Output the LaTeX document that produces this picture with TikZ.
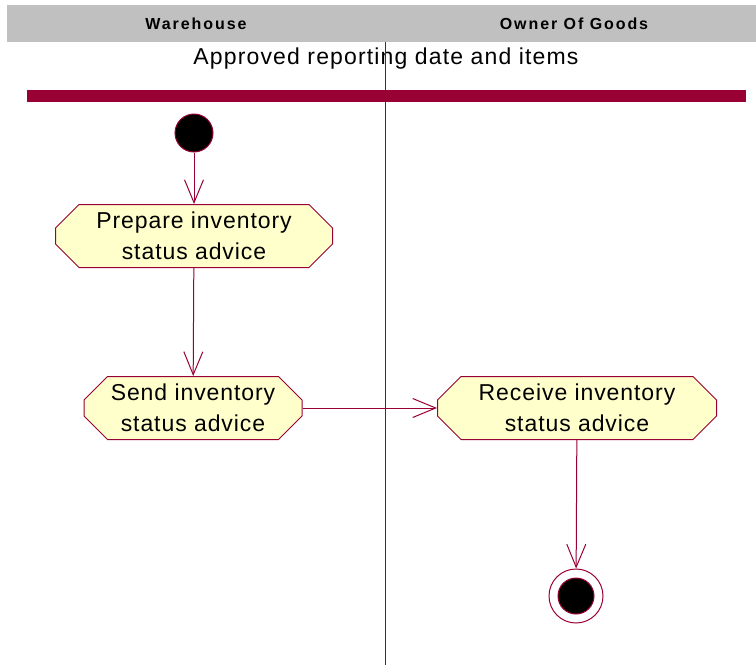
\documentclass[tikz,border=0pt]{standalone}
\usepackage{fontspec}
\setmainfont{Liberation Sans}
\newfontfamily\lanefont[LetterSpace=12]{Liberation Sans}
\newfontfamily\actfont[LetterSpace=4]{Liberation Sans}
\newfontfamily\condfont[LetterSpace=5]{Liberation Sans}
\usetikzlibrary{arrows.meta}
\definecolor{umlred}{RGB}{153,0,51}
\definecolor{actfill}{RGB}{255,255,204}
\definecolor{lanegray}{RGB}{192,192,192}

% octagon drawn inside the (invisible) rectangle of an activity node
\newcommand\actoutline{%
	\filldraw[draw=umlred,fill=actfill]
	([xshift=24pt,yshift=-.5pt]path picture bounding box.north west)
	-- ([xshift=-24pt,yshift=-.5pt]path picture bounding box.north east)
	-- ([xshift=-.5pt,yshift=-24pt]path picture bounding box.north east)
	-- ([xshift=-.5pt,yshift=24pt]path picture bounding box.south east)
	-- ([xshift=-24pt,yshift=.5pt]path picture bounding box.south east)
	-- ([xshift=24pt,yshift=.5pt]path picture bounding box.south west)
	-- ([xshift=.5pt,yshift=24pt]path picture bounding box.south west)
	-- ([xshift=.5pt,yshift=-24pt]path picture bounding box.north west)
	-- cycle;}

\begin{document}
\begin{tikzpicture}[->,>={Straight Barb[length=23pt,width=19pt]},x=1pt,y=-1pt,
		line width=1pt]
		\tikzstyle{every edge}=[draw=umlred]
		\tikzstyle{activity}=[rectangle,outer sep=0pt,inner sep=0pt,
			minimum height=64pt,align=center,text=black,
			path picture={\actoutline},
			font=\actfont\fontsize{23}{31}\selectfont]
		\tikzstyle{lane}=[font=\lanefont\bfseries\fontsize{16}{18}\selectfont]
		\useasboundingbox (0,0) rectangle (756,667);
		
		% swimlane heads
		\fill[lanegray] (7,5) rectangle (756,42);
		\node[lane] (wh) at (196,24) {Warehouse};
		\node[lane] (og) at (574,24) {Owner Of Goods};
		\node[font=\condfont\fontsize{23}{27}\selectfont] (cond) at (386,59) {Approved reporting date and items};
		\draw[-,umlred,line width=0.8pt] (385,42) -- (385,665);
		\fill[umlred] (27,90) rectangle (746,102);
		
		\node[circle,fill=black,draw=umlred,minimum size=38pt,inner sep=0pt] (start) at (194,133) {};
		\node[activity,minimum width=278pt] (prep) at (194,236) {Prepare inventory\\status advice};
		\node[activity,minimum width=219pt] (send) at (193,408) {Send inventory\\status advice};
		\node[activity,minimum width=280pt] (recv) at (577,408) {Receive inventory\\status advice};
		\node[circle,draw=umlred,fill=white,minimum size=54pt,inner sep=0pt,
			path picture={\fill[black,draw=umlred] (path picture bounding box.center) circle (18pt);}] (end) at (576,596) {};
		
		\path 
		(start) edge (prep)
		(prep) edge (send)
		(send) edge (recv)
		(recv) edge (end);
\end{tikzpicture}
\end{document}
